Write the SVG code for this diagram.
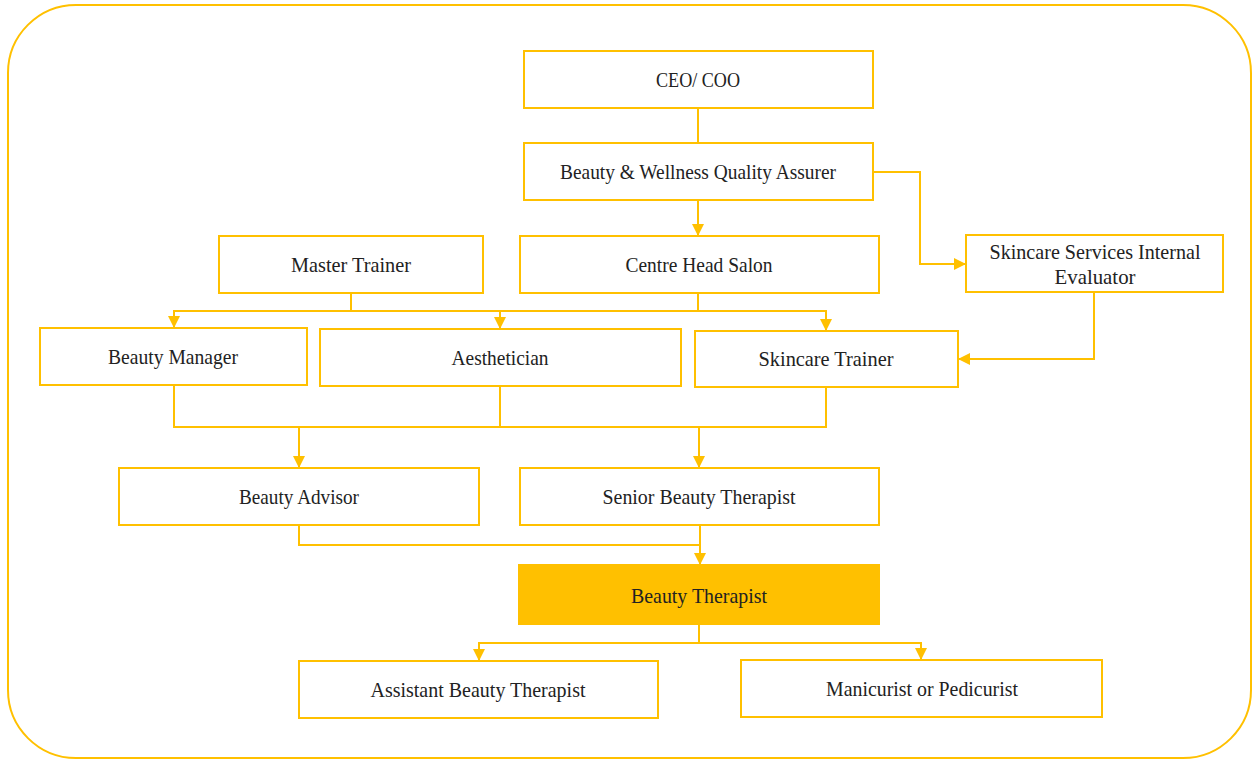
<svg xmlns="http://www.w3.org/2000/svg" width="1252" height="759" viewBox="0 0 1252 759">
<defs>
<marker id="arr" markerUnits="userSpaceOnUse" markerWidth="12" markerHeight="12" viewBox="0 0 12 12" refX="11" refY="6" orient="auto">
<path d="M0,0 L12,6 L0,12 Z" fill="#FFC000"/>
</marker>
<style>
.box{fill:#fff;stroke:#FFC000;stroke-width:2}
.fill{fill:#FFC000;stroke:#FFC000;stroke-width:2}
.t{font-family:"Liberation Serif","DejaVu Serif",serif;font-size:21px;fill:#222;text-anchor:middle}
.c{fill:none;stroke:#FFC000;stroke-width:2}
</style>
</defs>
<rect x="8" y="5" width="1243" height="753" rx="68" ry="68" fill="#fff" stroke="#FFC000" stroke-width="2"/>
<g id="connectors">
<path class="c" d="M698,108 V143"/>
<path class="c" d="M698,200 V235" marker-end="url(#arr)"/>
<path class="c" d="M873,172 H920 V264 H965" marker-end="url(#arr)"/>
<path class="c" d="M351,293 V311 H174 V327" marker-end="url(#arr)"/>
<path class="c" d="M351,311 H698"/>
<path class="c" d="M500,311 V328" marker-end="url(#arr)"/>
<path class="c" d="M698,293 V311 H826 V330" marker-end="url(#arr)"/>
<path class="c" d="M1094,292 V359 H959" marker-end="url(#arr)"/>
<path class="c" d="M174,385 V427 H826 V387"/>
<path class="c" d="M500,386 V427"/>
<path class="c" d="M299,427 V467" marker-end="url(#arr)"/>
<path class="c" d="M699,427 V467" marker-end="url(#arr)"/>
<path class="c" d="M299,525 V545 H700"/>
<path class="c" d="M700,525 V564" marker-end="url(#arr)"/>
<path class="c" d="M699,624 V643 H921 V659" marker-end="url(#arr)"/>
<path class="c" d="M699,643 H479 V660" marker-end="url(#arr)"/>
</g>
<g id="ceo"><rect class="box" x="524" y="51" width="349" height="57"/><text class="t" x="698" y="87" textLength="84" lengthAdjust="spacingAndGlyphs">CEO/ COO</text></g>
<g id="bwqa"><rect class="box" x="524" y="143" width="349" height="57"/><text class="t" x="698" y="179" textLength="276" lengthAdjust="spacingAndGlyphs">Beauty &amp; Wellness Quality Assurer</text></g>
<g id="master-trainer"><rect class="box" x="219" y="236" width="264" height="57"/><text class="t" x="351" y="272" textLength="120" lengthAdjust="spacingAndGlyphs">Master Trainer</text></g>
<g id="centre-head"><rect class="box" x="520" y="236" width="359" height="57"/><text class="t" x="699" y="272" textLength="147" lengthAdjust="spacingAndGlyphs">Centre Head Salon</text></g>
<g id="evaluator"><rect class="box" x="966" y="235" width="257" height="57"/><text class="t" x="1095" y="259" textLength="211" lengthAdjust="spacingAndGlyphs">Skincare Services Internal</text><text class="t" x="1095" y="284" textLength="81" lengthAdjust="spacingAndGlyphs">Evaluator</text></g>
<g id="beauty-manager"><rect class="box" x="40" y="328" width="267" height="57"/><text class="t" x="173" y="364" textLength="130" lengthAdjust="spacingAndGlyphs">Beauty Manager</text></g>
<g id="aesthetician"><rect class="box" x="320" y="329" width="361" height="57"/><text class="t" x="500" y="365" textLength="97" lengthAdjust="spacingAndGlyphs">Aesthetician</text></g>
<g id="skincare-trainer"><rect class="box" x="695" y="331" width="263" height="56"/><text class="t" x="826" y="366" textLength="135" lengthAdjust="spacingAndGlyphs">Skincare Trainer</text></g>
<g id="beauty-advisor"><rect class="box" x="119" y="468" width="360" height="57"/><text class="t" x="299" y="504" textLength="120" lengthAdjust="spacingAndGlyphs">Beauty Advisor</text></g>
<g id="senior-therapist"><rect class="box" x="520" y="468" width="359" height="57"/><text class="t" x="699" y="504" textLength="193" lengthAdjust="spacingAndGlyphs">Senior Beauty Therapist</text></g>
<g id="beauty-therapist"><rect class="fill" x="519" y="565" width="360" height="59"/><text class="t" x="699" y="603" textLength="136" lengthAdjust="spacingAndGlyphs">Beauty Therapist</text></g>
<g id="assistant-therapist"><rect class="box" x="299" y="661" width="359" height="57"/><text class="t" x="478" y="697" textLength="215" lengthAdjust="spacingAndGlyphs">Assistant Beauty Therapist</text></g>
<g id="manicurist"><rect class="box" x="741" y="660" width="361" height="57"/><text class="t" x="922" y="696" textLength="192" lengthAdjust="spacingAndGlyphs">Manicurist or Pedicurist</text></g>
</svg>
